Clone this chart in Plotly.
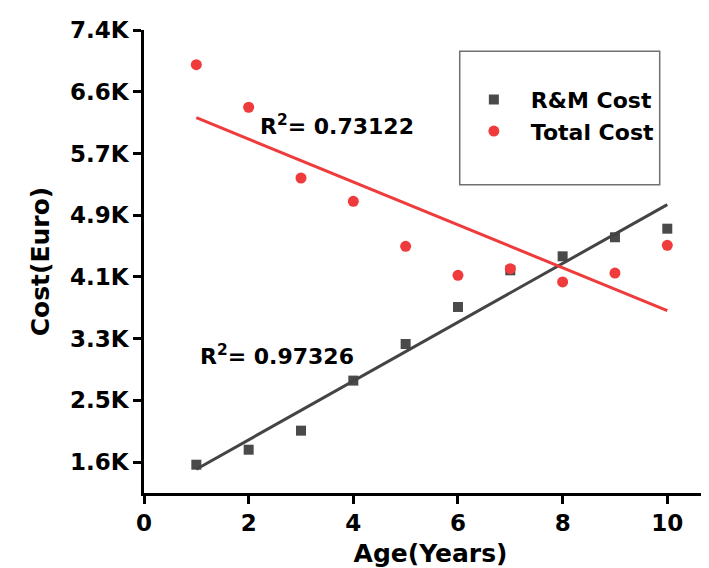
import numpy as np
import plotly.graph_objects as go

# ---- data ----
age_years = [1, 2, 3, 4, 5, 6, 7, 8, 9, 10]
rm_cost = [1606, 1805, 2058, 2723, 3209, 3701, 4188, 4374, 4627, 4741]
total_cost = [6919, 6354, 5414, 5105, 4507, 4122, 4210, 4033, 4152, 4520]
y_tick_vals = [1640, 2460, 3280, 4100, 4920, 5740, 6560, 7380]
y_tick_text = ["1.6K", "2.5K", "3.3K", "4.1K", "4.9K", "5.7K", "6.6K", "7.4K"]
x_tick_vals = [0, 2, 4, 6, 8, 10]
r2_rm_text = "R<sup>2</sup>= 0.97326"
r2_total_text = "R<sup>2</sup>= 0.73122"

GREY = "#4a4a4a"
GREY_LINE = "#444444"
RED = "#ef3b3b"
FONT = "DejaVu Sans"

x = np.array(age_years, dtype=float)
rm_fit = np.polyfit(x, np.array(rm_cost, dtype=float), 1)
tot_fit = np.polyfit(x, np.array(total_cost, dtype=float), 1)
x_ends = [age_years[0], age_years[-1]]

fig = go.Figure()
fig.add_trace(go.Scatter(
    x=age_years, y=rm_cost, mode="markers", name="R&M Cost",
    marker=dict(symbol="square", size=10, color=GREY),
))
fig.add_trace(go.Scatter(
    x=x_ends, y=list(np.polyval(rm_fit, x_ends)), mode="lines",
    line=dict(color=GREY_LINE, width=3), showlegend=False,
))
fig.add_trace(go.Scatter(
    x=age_years, y=total_cost, mode="markers", name="Total Cost",
    marker=dict(symbol="circle", size=11, color=RED),
))
fig.add_trace(go.Scatter(
    x=x_ends, y=list(np.polyval(tot_fit, x_ends)), mode="lines",
    line=dict(color=RED, width=3), showlegend=False,
))

tickfont = dict(family=FONT, size=23, color="black", weight="bold")
titlefont = dict(family=FONT, size=25, color="black", weight="bold")
txtfont = dict(family=FONT, size=22, color="black", weight="bold")

fig.update_layout(
    width=709, height=568,
    margin=dict(l=136, r=0, t=22, b=83, autoexpand=False),
    plot_bgcolor="white", paper_bgcolor="white",
    showlegend=True,
    legend=dict(
        x=0.546, y=0.895, xanchor="left", yanchor="top",
        font=txtfont,
        bgcolor="rgba(0,0,0,0)", borderwidth=0, itemwidth=64,
        tracegroupgap=0,
    ),
    xaxis=dict(
        range=[0, 10.95], tickvals=x_tick_vals, ticktext=[str(v) for v in x_tick_vals],
        showline=True, linecolor="black", linewidth=2.5, ticks="outside",
        ticklen=8, tickwidth=2.5, tickcolor="black", showgrid=False, zeroline=False,
        tickfont=tickfont, automargin=False,
        title=dict(text="Age(Years)", font=titlefont, standoff=10),
    ),
    yaxis=dict(
        range=[1230, 7380], tickvals=y_tick_vals, ticktext=y_tick_text,
        showline=True, linecolor="black", linewidth=2.5, ticks="outside",
        ticklen=8, tickwidth=2.5, tickcolor="black", showgrid=False, zeroline=False,
        tickfont=tickfont, automargin=False,
        title=dict(text="Cost(Euro)", font=titlefont, standoff=14),
    ),
    shapes=[dict(
        type="rect", xref="paper", yref="paper",
        x0=0.551, x1=0.9, y0=0.666, y1=0.954,
        line=dict(color="#707070", width=1.5), fillcolor="rgba(0,0,0,0)",
    )],
    annotations=[
        dict(x=2.18, y=6120, xref="x", yref="y", text=r2_total_text, showarrow=False,
             xanchor="left", yanchor="middle", font=txtfont),
        dict(x=1.04, y=3060, xref="x", yref="y", text=r2_rm_text, showarrow=False,
             xanchor="left", yanchor="middle", font=txtfont),
    ],
)

fig.write_html("out.html")
